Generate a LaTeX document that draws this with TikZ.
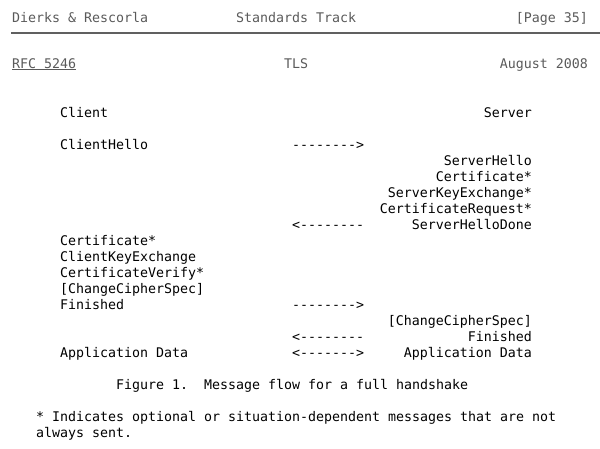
\documentclass[tikz,border=0pt]{standalone}
\usepackage{fontspec}
\setmonofont{DejaVu Sans Mono}
\definecolor{hdrgray}{HTML}{5A5A5A}
\definecolor{rulegray}{HTML}{606060}
\newcommand{\rfcfont}{\ttfamily\fontsize{13.29pt}{16pt}\selectfont}
\frenchspacing
\begin{document}
\begin{tikzpicture}[x=1pt,y=-1pt,
        txt/.style  = {inner sep=0pt,anchor=base west,font=\rfcfont},
        rtxt/.style = {txt,anchor=base east},
        hdr/.style  = {txt,text=hdrgray}]
                \useasboundingbox (0,0) rectangle (600,448);

                % page header
                \node[hdr] (author) at (12,22) {Dierks \& Rescorla};
                \node[hdr] (status) at (236,22) {Standards Track};
                \node[hdr,anchor=base east] (page) at (588,22) {[Page 35]};
                \draw[rulegray,line width=2pt] (11,32.5) -- (600,32.5);

                \node[hdr] (rfc) at (12,68) {RFC 5246};
                \draw[hdrgray,line width=0.9pt]
                    ([yshift=-1.8pt]rfc.base west) -- ([yshift=-1.8pt]rfc.base east);
                \node[hdr] (tls) at (284,68) {TLS};
                \node[hdr,anchor=base east] (date) at (588,68) {August 2008};

                % message flow
                \node[txt]  (client) at (60,117)  {Client};
                \node[rtxt] (server) at (532,117) {Server};

                \node[txt]  (chello) at (60,149)  {ClientHello};
                \node[txt]  (flow1)  at (292,149) {-------->};
                \node[rtxt] (shello) at (532,165) {ServerHello};
                \node[rtxt] (scert)  at (532,181) {Certificate*};
                \node[rtxt] (ske)    at (532,197) {ServerKeyExchange*};
                \node[rtxt] (creq)   at (532,213) {CertificateRequest*};
                \node[txt]  (flow2)  at (292,229) {<--------};
                \node[rtxt] (shdone) at (532,229) {ServerHelloDone};

                \node[txt]  (ccert)  at (60,245)  {Certificate*};
                \node[txt]  (cke)    at (60,261)  {ClientKeyExchange};
                \node[txt]  (cverif) at (60,277)  {CertificateVerify*};
                \node[txt]  (cccs)   at (60,293)  {[ChangeCipherSpec]};
                \node[txt]  (cfin)   at (60,309)  {Finished};
                \node[txt]  (flow3)  at (292,309) {-------->};
                \node[rtxt] (sccs)   at (532,325) {[ChangeCipherSpec]};
                \node[txt]  (flow4)  at (292,341) {<--------};
                \node[rtxt] (sfin)   at (532,341) {Finished};
                \node[txt]  (cdata)  at (60,357)  {Application Data};
                \node[txt]  (flow5)  at (292,357) {<------->};
                \node[rtxt] (sdata)  at (532,357) {Application Data};

                % caption and note
                \node[txt] (caption) at (116,389) {Figure 1.~ Message flow for a full handshake};
                \node[txt] (note1) at (36,421)
                    {* Indicates optional or situation-dependent messages that are not};
                \node[txt] (note2) at (36,437) {always sent.};
\end{tikzpicture}
\end{document}
